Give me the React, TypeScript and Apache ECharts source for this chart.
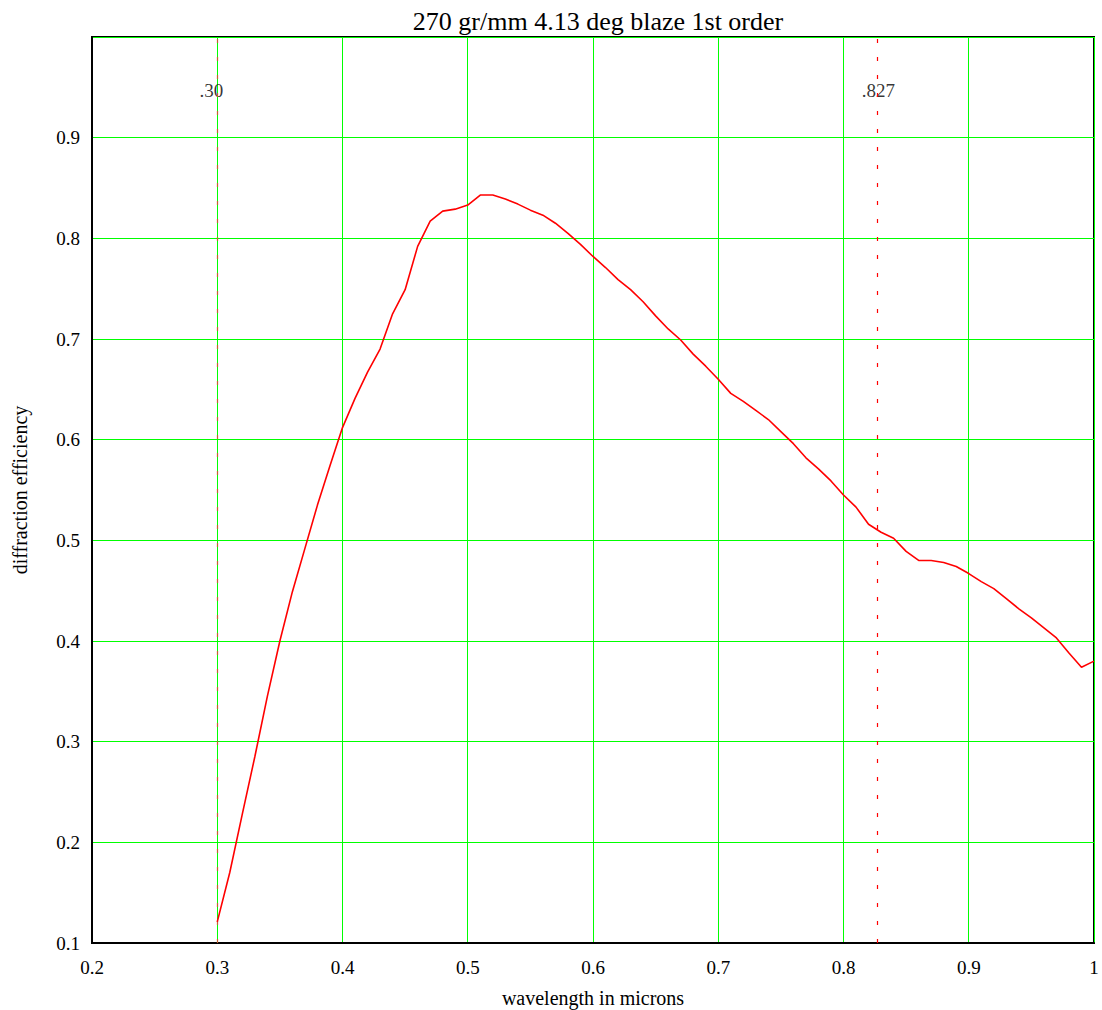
import React, { useEffect, useRef } from "react";
import * as echarts from "echarts";

const wavelengths: number[] = [
  0.30, 0.31, 0.32, 0.33, 0.34, 0.35, 0.36, 0.37, 0.38, 0.39,
  0.40, 0.41, 0.42, 0.43, 0.44, 0.45, 0.46, 0.47, 0.48, 0.49,
  0.50, 0.51, 0.52, 0.53, 0.54, 0.55, 0.56, 0.57, 0.58, 0.59,
  0.60, 0.61, 0.62, 0.63, 0.64, 0.65, 0.66, 0.67, 0.68, 0.69,
  0.70, 0.71, 0.72, 0.73, 0.74, 0.75, 0.76, 0.77, 0.78, 0.79,
  0.80, 0.81, 0.82, 0.83, 0.84, 0.85, 0.86, 0.87, 0.88, 0.89,
  0.90, 0.91, 0.92, 0.93, 0.94, 0.95, 0.96, 0.97, 0.98, 0.99, 1.00,
];

const efficiency: number[] = [
  0.121, 0.170, 0.228, 0.285, 0.345, 0.400, 0.449, 0.492, 0.535, 0.574,
  0.612, 0.641, 0.667, 0.690, 0.725, 0.749, 0.792, 0.817, 0.827, 0.829,
  0.833, 0.843, 0.843, 0.839, 0.834, 0.828, 0.823, 0.815, 0.805, 0.794,
  0.782, 0.771, 0.759, 0.749, 0.737, 0.723, 0.710, 0.699, 0.685, 0.673,
  0.660, 0.646, 0.638, 0.629, 0.620, 0.608, 0.596, 0.582, 0.571, 0.559,
  0.545, 0.533, 0.516, 0.508, 0.502, 0.489, 0.480, 0.480, 0.478, 0.474,
  0.467, 0.459, 0.452, 0.442, 0.432, 0.423, 0.413, 0.403, 0.388, 0.374, 0.380,
];

const markerX: number[] = [0.30, 0.827];
const markerLabels: string[] = [".30", ".827"];
const markerLabelY = 0.947;

const titleText = "270 gr/mm 4.13 deg blaze 1st order";
const xName = "wavelength in microns";
const yName = "diffraction efficiency";

const FONT = "'Liberation Serif', 'Times New Roman', serif";

export default function App() {
  const ref = useRef<HTMLDivElement>(null);

  useEffect(() => {
    document.body.style.margin = "0";
    if (!ref.current) return;
    const chart = echarts.init(ref.current, undefined, { renderer: "svg" });

    const lineData = wavelengths.map((w, i) => [w, efficiency[i]]);
    const labelOffsets = [[-6, 0], [1, 0]];
    const markerData = markerX.map((x, i) => ({
      name: markerLabels[i],
      value: [x, markerLabelY],
      label: { offset: labelOffsets[i] },
    }));

    chart.setOption({
      animation: false,
      backgroundColor: "#ffffff",
      textStyle: { fontFamily: FONT },
      title: {
        text: titleText,
        left: 593,
        top: 3,
        textAlign: "center",
        textStyle: {
          fontFamily: FONT,
          fontSize: 26,
          fontWeight: "normal",
          color: "#000",
        },
      },
      grid: {
        left: 92,
        right: 8,
        top: 37,
        bottom: 67,
        outerBoundsMode: "none",
        containLabel: false,
        show: true,
        borderColor: "#000",
        borderWidth: 2,
        backgroundColor: "transparent",
      },
      xAxis: {
        type: "value",
        min: 0.2,
        max: 1.0,
        interval: 0.1,
        name: xName,
        nameLocation: "middle",
        nameGap: 45,
        nameTextStyle: { fontFamily: FONT, fontSize: 20, color: "#000" },
        axisLine: { show: true, lineStyle: { color: "#000", width: 2 } },
        axisTick: { show: false },
        axisLabel: {
          fontFamily: FONT,
          fontSize: 19,
          color: "#000",
          margin: 15,
          formatter: (v: number) =>
            Math.abs(v - 1) < 1e-9 ? "1" : v.toFixed(1),
        },
        splitLine: { show: true, lineStyle: { color: "#00ff00", width: 1 } },
      },
      yAxis: {
        type: "value",
        min: 0.1,
        max: 1.0,
        interval: 0.1,
        name: yName,
        nameLocation: "middle",
        nameGap: 62,
        nameRotate: 90,
        nameTextStyle: { fontFamily: FONT, fontSize: 20, color: "#000" },
        axisLine: { show: true, lineStyle: { color: "#000", width: 2 } },
        axisTick: { show: false },
        axisLabel: {
          fontFamily: FONT,
          fontSize: 19,
          color: "#000",
          margin: 12,
          formatter: (v: number) =>
            Math.abs(v - 1) < 1e-9 ? "" : v.toFixed(1),
        },
        splitLine: { show: true, lineStyle: { color: "#00ff00", width: 1 } },
      },
      series: [
        {
          type: "line",
          data: lineData,
          showSymbol: false,
          symbol: "none",
          lineStyle: { color: "#ff0000", width: 1.6 },
          z: 5,
          markLine: {
            silent: true,
            precision: 4,
            symbol: ["none", "none"],
            label: { show: false },
            data: [
              {
                xAxis: markerX[0],
                lineStyle: { color: "#c0602f", type: [4, 14], width: 1.2 },
              },
              {
                xAxis: markerX[1],
                lineStyle: { color: "#ff0000", type: [4, 14], width: 1.2 },
              },
            ],
          },
        },
        {
          type: "scatter",
          data: markerData,
          symbolSize: 0,
          silent: true,
          label: {
            show: true,
            position: "inside",
            formatter: (p: any) => p.name,
            fontFamily: FONT,
            fontSize: 19,
            color: "#000",
          },
        },
      ],
    });

    return () => chart.dispose();
  }, []);

  return <div ref={ref} style={{ width: 1102, height: 1010 }} />;
}
